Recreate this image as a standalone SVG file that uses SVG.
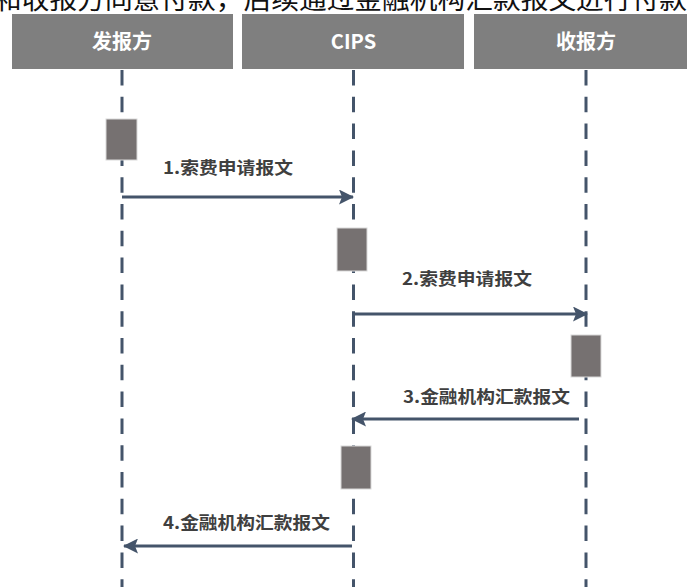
<svg xmlns="http://www.w3.org/2000/svg" width="687" height="587" viewBox="0 0 687 587">
  <style>
    .hdr { fill: #7f7f7f; }
    .hdrtxt { fill: #ffffff; font-family: "Noto Sans CJK SC", "Noto Sans", "Liberation Sans", sans-serif; font-size: 20px; font-weight: bold; text-anchor: middle; }
    .life { stroke: #44546a; stroke-width: 3; stroke-dasharray: 15.5 11.3; fill: none; }
    .act { fill: #767171; stroke: #d9d9d9; stroke-width: 1; }
    .msg { stroke: #44546a; stroke-width: 3; fill: none; }
    .lbl { fill: #3f3f3f; font-family: "Noto Sans CJK SC", "Noto Sans", "Liberation Sans", sans-serif; font-size: 17px; font-weight: bold; }
    .top { fill: #111111; font-family: "Noto Sans CJK SC", "Liberation Serif", serif; font-size: 26px; }
  </style>
  <defs>
    <marker id="arr" viewBox="0 0 15 15" refX="14" refY="7.5" markerWidth="15" markerHeight="15" markerUnits="userSpaceOnUse" orient="auto">
      <path d="M0,0 L15,7.5 L0,15 L3,7.5 Z" fill="#44546a"/>
    </marker>
  </defs>
  <rect width="687" height="587" fill="#ffffff"/>
  <text class="top" x="-6" y="9" textLength="693" lengthAdjust="spacingAndGlyphs">和收报方同意付款，后续通过金融机构汇款报文进行付款</text>

  <g id="sender">
    <rect class="hdr" x="12" y="14" width="221" height="55"/>
    <text class="hdrtxt" x="122" y="49">发报方</text>
    <line class="life" x1="122" y1="70" x2="122" y2="587"/>
    <rect class="act" x="106" y="119" width="31" height="41"/>
  </g>
  <g id="cips">
    <rect class="hdr" x="242" y="14" width="222" height="55"/>
    <text class="hdrtxt" x="353.5" y="49">CIPS</text>
    <line class="life" x1="353.5" y1="70" x2="353.5" y2="587"/>
    <rect class="act" x="337" y="228" width="30" height="43"/>
    <rect class="act" x="341" y="446" width="30" height="43"/>
  </g>
  <g id="receiver">
    <rect class="hdr" x="474" y="14" width="220" height="55"/>
    <text class="hdrtxt" x="586" y="49">收报方</text>
    <line class="life" x1="586" y1="70" x2="586" y2="587"/>
    <rect class="act" x="571" y="335" width="30" height="42"/>
  </g>

  <g id="connectors">
    <line class="msg" x1="122" y1="197" x2="353" y2="197" marker-end="url(#arr)"/>
    <text class="lbl" x="163" y="174" textLength="130" lengthAdjust="spacingAndGlyphs">1.索费申请报文</text>
    <line class="msg" x1="354" y1="314" x2="587" y2="314" marker-end="url(#arr)"/>
    <text class="lbl" x="402" y="285" textLength="130" lengthAdjust="spacingAndGlyphs">2.索费申请报文</text>
    <line class="msg" x1="579" y1="419" x2="352" y2="419" marker-end="url(#arr)"/>
    <text class="lbl" x="403" y="403" textLength="167" lengthAdjust="spacingAndGlyphs">3.金融机构汇款报文</text>
    <line class="msg" x1="352" y1="546" x2="124" y2="546" marker-end="url(#arr)"/>
    <text class="lbl" x="163" y="529" textLength="167" lengthAdjust="spacingAndGlyphs">4.金融机构汇款报文</text>
  </g>
</svg>
